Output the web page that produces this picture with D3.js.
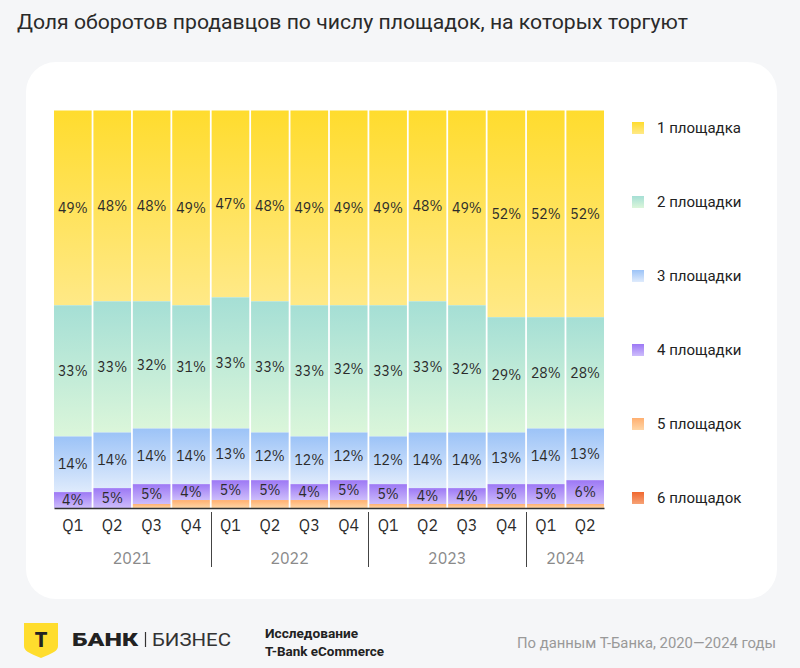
<!DOCTYPE html>
<html><head><meta charset="utf-8">
<script src="https://cdn.jsdelivr.net/npm/d3@7"></script>
<style>
html,body{margin:0;padding:0;background:#f5f6f8;}
svg{display:block;}
</style></head>
<body>
<svg id="chart" width="800" height="668"></svg>
<script>
const quarters = ["Q1","Q2","Q3","Q4","Q1","Q2","Q3","Q4","Q1","Q2","Q3","Q4","Q1","Q2"];
const years = ["2021","2022","2023","2024"];
const yearOfBar = ["2021","2021","2021","2021","2022","2022","2022","2022","2023","2023","2023","2023","2024","2024"];
const seriesNames = ["1 площадка","2 площадки","3 площадки","4 площадки","5 площадок","6 площадок"];
const s1 = [49,48,48,49,47,48,49,49,49,48,49,52,52,52];
const s2 = [33,33,32,31,33,33,33,32,33,33,32,29,28,28];
const s3 = [14,14,14,14,13,12,12,12,12,14,14,13,14,13];
const s4 = [4,5,5,4,5,5,4,5,5,4,4,5,5,6];
const s5 = [0,0,1,2,2,2,2,2,1,1,1,1,1,1];
const s6 = [0,0,0,0,0,0,0,0,0,0,0,0,0,0];
const seriesValues = [s1,s2,s3,s4,s5,s6];
const labelledSeries = [0,1,2,3];
const gradTop = ["#FFDC2E","#A5DFD5","#9CC3F7","#9D78F5","#FFAF70","#F06830"];
const gradBot = ["#FFE987","#DBF6DA","#DFEBFC","#CDBDFB","#FFD6A6","#F6A275"];

const svg = d3.select("#chart");
const fontMain = "'IBM Plex Sans','Open Sans','Roboto',sans-serif";

const defs = svg.append("defs");
seriesNames.forEach((n,i)=>{
  const g = defs.append("linearGradient").attr("id","g"+i).attr("x1",0).attr("y1",0).attr("x2",0).attr("y2",1);
  g.append("stop").attr("offset","0%").attr("stop-color",gradTop[i]);
  g.append("stop").attr("offset","100%").attr("stop-color",gradBot[i]);
});

svg.append("text").attr("x",17).attr("y",29)
  .attr("font-family","Roboto, sans-serif").attr("font-size",21).attr("fill","#2a2a2a")
  .attr("textLength",671).attr("lengthAdjust","spacingAndGlyphs")
  .text("Доля оборотов продавцов по числу площадок, на которых торгуют");

svg.append("rect").attr("x",26).attr("y",62).attr("width",751).attr("height",537)
  .attr("rx",30).attr("fill","#ffffff");

const data = quarters.map((q,i)=>{
  const o = {i:i};
  seriesNames.forEach((n,k)=>o[n]=seriesValues[k][i]);
  return o;
});
const stack = d3.stack().keys(seriesNames).order(d3.stackOrderReverse)(data);

const x = d3.scaleBand().domain(d3.range(quarters.length)).range([54,604]).paddingInner(0.045).paddingOuter(0);
const y = d3.scaleLinear().domain([0,100]).range([508,110.5]);

const layers = svg.append("g").selectAll("g").data(stack).join("g")
  .attr("fill",d=>`url(#g${seriesNames.indexOf(d.key)})`);
layers.selectAll("rect").data(d=>d).join("rect")
  .attr("x",(d,j)=>x(j)).attr("width",x.bandwidth())
  .attr("y",d=>y(d[1])).attr("height",d=>Math.max(0,y(d[0])-y(d[1])));

const lab = svg.append("g").attr("font-family",fontMain).attr("font-size",14).attr("fill","#2b2b2b").attr("text-anchor","middle");
labelledSeries.forEach(k=>{
  const layer = stack.find(s=>s.key===seriesNames[k]);
  layer.forEach((d,j)=>{
    lab.append("text").attr("x",x(j)+x.bandwidth()/2).attr("y",(y(d[0])+y(d[1]))/2)
      .attr("dy","0.35em").text(seriesValues[k][j]+"%");
  });
});

const xAxis = d3.axisBottom(x).tickSize(0).tickSizeOuter(0).tickPadding(12).tickFormat(i=>quarters[i]);
const ax = svg.append("g").attr("transform","translate(0,508)").call(xAxis);
ax.select(".domain").attr("stroke","#333").attr("stroke-width",1.6);
ax.selectAll(".tick text").attr("font-family",fontMain).attr("font-size",16).attr("fill","#2b2b2b");

years.forEach(yr=>{
  const idx = yearOfBar.map((v,i)=>v===yr?i:-1).filter(i=>i>=0);
  const x0 = x(idx[0]), x1 = x(idx[idx.length-1])+x.bandwidth();
  svg.append("text").attr("x",(x0+x1)/2).attr("y",564).attr("text-anchor","middle")
    .attr("font-family",fontMain).attr("font-size",16).attr("fill","#8a8a8a").text(yr);
  if (idx[0]>0){
    const sx = Math.round(x0 - x.step()*x.paddingInner()/2)+0.5;
    svg.append("line").attr("x1",sx).attr("x2",sx).attr("y1",512).attr("y2",567)
      .attr("stroke","#444").attr("stroke-width",1);
  }
});

const leg = svg.append("g");
seriesNames.forEach((n,i)=>{
  const cy = 128 + i*74;
  leg.append("rect").attr("x",632).attr("y",cy-6).attr("width",12).attr("height",12).attr("fill",`url(#g${i})`);
  leg.append("text").attr("x",657).attr("y",cy).attr("dy","0.35em")
    .attr("font-family","Roboto, sans-serif").attr("font-size",15).attr("fill","#222").text(n);
});

const f = svg.append("g");
f.append("path").attr("d","M24,623 H58 V646 C58,651 53,653 41,658 C29,653 24,651 24,646 Z").attr("fill","#FFDD2D");
f.append("text").attr("x",41).attr("y",647).attr("text-anchor","middle").attr("font-family","Roboto, sans-serif")
  .attr("font-weight",900).attr("font-size",20).attr("fill","#222").text("Т");
f.append("text").attr("x",72).attr("y",646).attr("font-family","Roboto, sans-serif").attr("font-weight",900)
  .attr("font-size",18).attr("fill","#222").attr("textLength",66).attr("lengthAdjust","spacingAndGlyphs").text("БАНК");
f.append("line").attr("x1",145.5).attr("x2",145.5).attr("y1",632).attr("y2",647).attr("stroke","#333").attr("stroke-width",1.2);
f.append("text").attr("x",152).attr("y",646).attr("font-family","Roboto, sans-serif").attr("font-weight",400)
  .attr("font-size",18).attr("fill","#333").attr("textLength",79).attr("lengthAdjust","spacingAndGlyphs").text("БИЗНЕС");
f.append("text").attr("x",265).attr("y",638).attr("font-family","Roboto, sans-serif").attr("font-weight",700)
  .attr("font-size",13).attr("fill","#222").attr("textLength",93).attr("lengthAdjust","spacingAndGlyphs").text("Исследование");
f.append("text").attr("x",265).attr("y",656).attr("font-family","Roboto, sans-serif").attr("font-weight",700)
  .attr("font-size",13).attr("fill","#222").attr("textLength",119).attr("lengthAdjust","spacingAndGlyphs").text("T-Bank eCommerce");
f.append("text").attr("x",776).attr("y",648).attr("text-anchor","end").attr("font-family","Roboto, sans-serif")
  .attr("font-size",14.5).attr("fill","#999").attr("textLength",259).attr("lengthAdjust","spacingAndGlyphs")
  .text("По данным Т-Банка, 2020—2024 годы");
</script>
</body></html>
